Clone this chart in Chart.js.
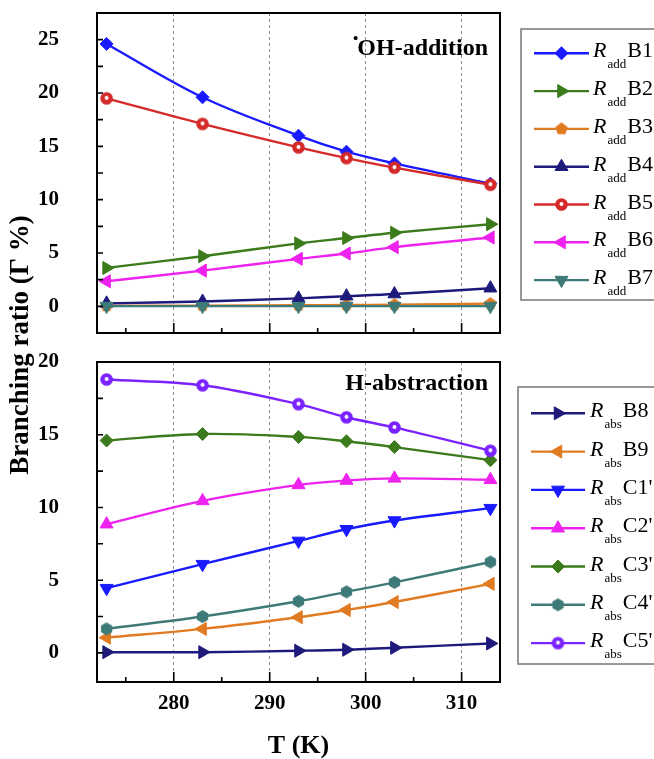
<!DOCTYPE html>
<html>
<head>
<meta charset="utf-8">
<script src="https://cdn.jsdelivr.net/npm/chart.js@4.4.1/dist/chart.umd.min.js"></script>
<style>
html, body { margin: 0; padding: 0; background: #fff; }
#wrap { position: relative; width: 654px; height: 759px; overflow: hidden; }
#wrap canvas { position: absolute; left: 0; top: 0; }
</style>
</head>
<body>
<div id="wrap">
  <canvas id="topChart" width="654" height="759"></canvas>
  <canvas id="bottomChart" width="654" height="759"></canvas>
</div>
<script>
// temperatures (K)
const temps = [273, 283, 293, 298, 303, 313];
const xTicks = [280, 290, 300, 310];
const yTicksTop = [0, 5, 10, 15, 20, 25];
const yTicksBottom = [0, 5, 10, 15, 20];

// OH-addition branching ratios (%)
const addNames = ['B1', 'B2', 'B3', 'B4', 'B5', 'B6', 'B7'];
const addB1 = [24.6, 19.6, 16.0, 14.5, 13.4, 11.5];
const addB2 = [3.6, 4.7, 5.9, 6.4, 6.9, 7.7];
const addB3 = [0.05, 0.07, 0.1, 0.12, 0.15, 0.25];
const addB4 = [0.28, 0.45, 0.75, 0.95, 1.15, 1.7];
const addB5 = [19.5, 17.1, 14.9, 13.9, 13.0, 11.4];
const addB6 = [2.35, 3.35, 4.45, 4.95, 5.55, 6.45];
const addB7 = [0.02, 0.02, 0.02, 0.02, 0.02, 0.02];

// H-abstraction branching ratios (%)
const absNames = ['B8', 'B9', "C1'", "C2'", "C3'", "C4'", "C5'"];
const absB8 = [0.05, 0.05, 0.15, 0.22, 0.35, 0.65];
const absB9 = [1.05, 1.65, 2.45, 2.95, 3.5, 4.75];
const absC1 = [4.45, 6.1, 7.7, 8.5, 9.1, 9.95];
const absC2 = [8.85, 10.45, 11.55, 11.85, 12.0, 11.9];
const absC3 = [14.6, 15.05, 14.85, 14.55, 14.15, 13.25];
const absC4 = [1.65, 2.5, 3.55, 4.2, 4.85, 6.25];
const absC5 = [18.8, 18.4, 17.1, 16.2, 15.5, 13.9];

const SERIF = "'Liberation Serif', 'DejaVu Serif', serif";
Chart.defaults.font.family = SERIF;
Chart.defaults.color = '#000';

const C = {
  blue: '#1a1aff', green: '#3b7b1c', orange: '#e07b22', navy: '#1d1a7c',
  red: '#d42a2a', magenta: '#ee22ee', teal: '#3e7a77', violet: '#7a22ff'
};

// polygon / dotted circle markers not built into Chart.js
function marker(shape, color, r) {
  const c = document.createElement('canvas');
  const s = Math.ceil(r * 2 + 4);
  c.width = s; c.height = s;
  const g = c.getContext('2d');
  const m = s / 2;
  g.fillStyle = color;
  g.beginPath();
  if (shape === 'circle') {
    g.arc(m, m, r, 0, Math.PI * 2);
  } else {
    const n = shape === 'pentagon' ? 5 : 6;
    for (let k = 0; k < n; k++) {
      const a = -Math.PI / 2 + k * 2 * Math.PI / n;
      const px = m + r * Math.cos(a), py = m + r * Math.sin(a);
      k ? g.lineTo(px, py) : g.moveTo(px, py);
    }
    g.closePath();
  }
  g.fill();
  if (shape === 'circle') {
    g.fillStyle = '#fff';
    g.beginPath();
    g.arc(m, m - 0.5, r * 0.32, 0, Math.PI * 2);
    g.fill();
  }
  return c;
}

function series(name, arr, color, style, rot, radius) {
  return {
    label: name,
    data: temps.map((t, i) => ({ x: t, y: arr[i] })),
    borderColor: color,
    backgroundColor: color,
    borderWidth: 2.4,
    pointStyle: style,
    pointRotation: rot || 0,
    pointRadius: radius || 6.5,
    pointHoverRadius: radius || 6.5,
    pointBorderWidth: 1,
    tension: 0.35
  };
}

const topSets = [
  series(addNames[0], addB1, C.blue, 'rectRot', 0, 6.5),
  series(addNames[1], addB2, C.green, 'triangle', 90, 7.5),
  series(addNames[2], addB3, C.orange, marker('pentagon', C.orange, 6.5), 0),
  series(addNames[3], addB4, C.navy, 'triangle', 0, 7.5),
  series(addNames[4], addB5, C.red, marker('circle', C.red, 6.3), 0),
  series(addNames[5], addB6, C.magenta, 'triangle', 270, 7.5),
  series(addNames[6], addB7, C.teal, 'triangle', 180, 7.5)
];
const bottomSets = [
  series(absNames[0], absB8, C.navy, 'triangle', 90, 7.5),
  series(absNames[1], absB9, C.orange, 'triangle', 270, 7.5),
  series(absNames[2], absC1, C.blue, 'triangle', 180, 7.5),
  series(absNames[3], absC2, C.magenta, 'triangle', 0, 7.5),
  series(absNames[4], absC3, C.green, 'rectRot', 0, 6.5),
  series(absNames[5], absC4, C.teal, marker('hexagon', C.teal, 6.5), 0),
  series(absNames[6], absC5, C.violet, marker('circle', C.violet, 6.3), 0)
];
// later series drawn on top
topSets.forEach((d, i) => d.order = -i);
bottomSets.forEach((d, i) => d.order = -i);

// frame and inward ticks
const framePlugin = {
  id: 'frame',
  afterDraw(chart) {
    const { ctx, chartArea: a, scales } = chart;
    ctx.save();
    ctx.strokeStyle = '#000';
    ctx.lineWidth = 2;
    ctx.strokeRect(a.left, a.top, a.right - a.left, a.bottom - a.top);
    ctx.lineWidth = 1.6;
    const xs = scales.x, ys = scales.y;
    const xt = xs.ticks.map(t => t.value);
    const xstep = xt[1] - xt[0];
    ctx.beginPath();
    xt.forEach(v => {
      const p = xs.getPixelForValue(v);
      ctx.moveTo(p, a.bottom); ctx.lineTo(p, a.bottom - 10);
    });
    [xt[0] - xstep / 2].concat(xt.map(v => v + xstep / 2)).forEach(v => {
      if (v <= xs.min || v >= xs.max) return;
      const p = xs.getPixelForValue(v);
      ctx.moveTo(p, a.bottom); ctx.lineTo(p, a.bottom - 5);
    });
    const yt = ys.ticks.map(t => t.value);
    const ystep = yt[1] - yt[0];
    [yt[0] - ystep / 2].concat(yt, yt.map(v => v + ystep / 2)).forEach(v => {
      if (v <= ys.min || v >= ys.max) return;
      const p = ys.getPixelForValue(v);
      ctx.moveTo(a.left, p); ctx.lineTo(a.left + 6, p);
    });
    ctx.stroke();
    ctx.restore();
  }
};

// legend with italic R and subscript
const subLegend = {
  id: 'subLegend',
  afterDraw(chart, args, o) {
    const ctx = chart.ctx;
    ctx.save();
    ctx.strokeStyle = '#777';
    ctx.lineWidth = 1.5;
    ctx.strokeRect(o.box[0], o.box[1], o.box[2], o.box[3]);
    chart.data.datasets.forEach((d, i) => {
      const y = o.y0 + i * o.dy;
      ctx.strokeStyle = d.borderColor;
      ctx.fillStyle = d.borderColor;
      ctx.lineWidth = 2.4;
      ctx.beginPath();
      ctx.moveTo(o.x1, y); ctx.lineTo(o.x2, y);
      ctx.stroke();
      ctx.lineWidth = 1;
      Chart.helpers.drawPoint(ctx, {
        pointStyle: d.pointStyle, rotation: d.pointRotation,
        radius: d.pointRadius, borderWidth: 1
      }, (o.x1 + o.x2) / 2, y);
      ctx.fillStyle = '#000';
      ctx.textBaseline = 'alphabetic';
      ctx.textAlign = 'left';
      let x = o.tx;
      ctx.font = 'italic 22px ' + SERIF;
      ctx.fillText('R', x, y + 4);
      x += ctx.measureText('R').width + 1;
      ctx.font = '13px ' + SERIF;
      ctx.fillText(o.sub, x, y + 15);
      x += ctx.measureText(o.sub).width + 1;
      ctx.font = '22px ' + SERIF;
      ctx.fillText(d.label, x, y + 4);
    });
    ctx.restore();
  }
};

// panel captions and shared y title
const captions = {
  id: 'captions',
  afterDraw(chart, args, o) {
    const ctx = chart.ctx;
    ctx.save();
    ctx.fillStyle = '#000';
    ctx.textAlign = 'right';
    ctx.textBaseline = 'alphabetic';
    ctx.font = 'bold 24px ' + SERIF;
    ctx.fillText(o.text, o.x, o.y);
    if (o.dot) {
      const w = ctx.measureText(o.text).width;
      ctx.font = 'bold 15px ' + SERIF;
      ctx.fillText('\u2022', o.x - w + 1, o.y - 12);
    }
    if (o.yTitle) {
      ctx.translate(o.yTitle.x, o.yTitle.y);
      ctx.rotate(-Math.PI / 2);
      ctx.textAlign = 'center';
      ctx.textBaseline = 'middle';
      ctx.font = 'bold 27px ' + SERIF;
      ctx.fillText(o.yTitle.text, 0, 0);
    }
    ctx.restore();
  }
};

function options(cfg) {
  return {
    responsive: false,
    maintainAspectRatio: false,
    animation: false,
    layout: { padding: cfg.padding },
    plugins: {
      legend: { display: false },
      tooltip: { enabled: true },
      subLegend: cfg.legend,
      captions: cfg.caption
    },
    scales: {
      x: {
        type: 'linear',
        min: 272, max: 314,
        afterBuildTicks: s => { s.ticks = xTicks.map(v => ({ value: v })); },
        afterFit: s => { s.height = cfg.xHeight; s.paddingLeft = 0; s.paddingRight = 0; },
        ticks: {
          display: cfg.xLabels, padding: 9,
          font: { size: 21, weight: 'bold' }
        },
        grid: { display: true, drawTicks: false, color: '#8a8a8a', lineWidth: 1 },
        border: { display: false, dash: [3, 3] },
        title: {
          display: cfg.xLabels, text: 'T (K)', padding: { top: 0, bottom: 0 },
          font: { size: 26, weight: 'bold', lineHeight: 1 }
        }
      },
      y: {
        min: cfg.yMin, max: cfg.yMax,
        afterBuildTicks: s => { s.ticks = cfg.yTicks.map(v => ({ value: v })); },
        afterFit: s => { s.width = 97; s.paddingTop = 0; s.paddingBottom = 0; },
        ticks: {
          padding: 38,
          font: { size: 21, weight: 'bold' }
        },
        grid: { display: false, drawTicks: false },
        border: { display: false }
      }
    }
  };
}

new Chart(document.getElementById('topChart'), {
  type: 'line',
  data: { datasets: topSets },
  options: options({
    padding: { top: 13, right: 154, bottom: 426, left: 0 },
    xHeight: 0, xLabels: false, yMin: -2.5, yMax: 27.5, yTicks: yTicksTop,
    legend: { box: [521, 29, 150, 271], x1: 534, x2: 589, tx: 593, y0: 53.3, dy: 37.8, sub: 'add' },
    caption: { text: 'OH-addition', x: 488, y: 55, dot: true,
      yTitle: { text: 'Branching ratio (\u0393 %)', x: 21, y: 345 } }
  }),
  plugins: [framePlugin, subLegend, captions]
});

new Chart(document.getElementById('bottomChart'), {
  type: 'line',
  data: { datasets: bottomSets },
  options: options({
    padding: { top: 362, right: 154, bottom: 0, left: 0 },
    xHeight: 77, xLabels: true, yMin: -2, yMax: 20, yTicks: yTicksBottom,
    legend: { box: [518, 387, 150, 277], x1: 531, x2: 585, tx: 590, y0: 413.3, dy: 38.3, sub: 'abs' },
    caption: { text: 'H-abstraction', x: 488, y: 390, dot: false }
  }),
  plugins: [framePlugin, subLegend, captions]
});
</script>
</body>
</html>
